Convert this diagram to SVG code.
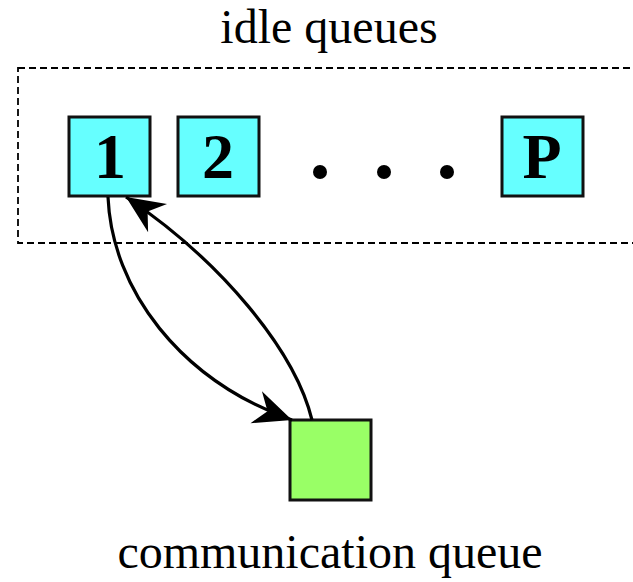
<svg xmlns="http://www.w3.org/2000/svg" width="633" height="582" viewBox="0 0 633 582">
  <style>
    .lbl { font-family: "Liberation Serif", "Times New Roman", serif; font-size: 48px; fill: #000; text-anchor: middle; }
    .num { font-family: "Liberation Serif", "Times New Roman", serif; font-size: 64px; font-weight: bold; fill: #000; text-anchor: middle; }
    .idle { fill: #66ffff; stroke: #111; stroke-width: 3; }
    .comm { fill: #99ff66; stroke: #111; stroke-width: 3; }
    .edge { fill: none; stroke: #000; stroke-width: 3.2; }
  </style>
  <defs>
    <marker id="arrow" markerUnits="userSpaceOnUse" viewBox="-40 -20 42 40" refX="0" refY="0" markerWidth="42" markerHeight="40" orient="auto">
      <path d="M0,0 L-38,-17 L-26,0 L-38,17 Z" fill="#000"/>
    </marker>
  </defs>
  <rect width="633" height="582" fill="#fff"/>

  <text class="lbl" x="329" y="43">idle queues</text>
  <rect x="18" y="68" width="630" height="175" fill="none" stroke="#000" stroke-width="1.8" stroke-dasharray="7,4"/>

  <g id="node-1">
    <rect class="idle" x="69" y="117" width="81" height="79"/>
    <text class="num" x="110" y="178">1</text>
  </g>
  <g id="node-2">
    <rect class="idle" x="178" y="117" width="81" height="79"/>
    <text class="num" x="218" y="178">2</text>
  </g>
  <g id="ellipsis">
    <circle cx="320" cy="172" r="7" fill="#000"/>
    <circle cx="384" cy="172" r="7" fill="#000"/>
    <circle cx="447" cy="172" r="7" fill="#000"/>
  </g>
  <g id="node-P">
    <rect class="idle" x="502" y="117" width="81" height="79"/>
    <text class="num" x="542" y="178">P</text>
  </g>
  <g id="node-comm">
    <rect class="comm" x="290" y="420" width="81" height="80"/>
  </g>
  <text class="lbl" x="330" y="568">communication queue</text>

  <g id="connectors">
    <path class="edge" d="M108,197 C112,290 180,380 292,420" marker-end="url(#arrow)"/>
    <path class="edge" d="M312,420 C295,350 220,260 126,197" marker-end="url(#arrow)"/>
  </g>
</svg>
